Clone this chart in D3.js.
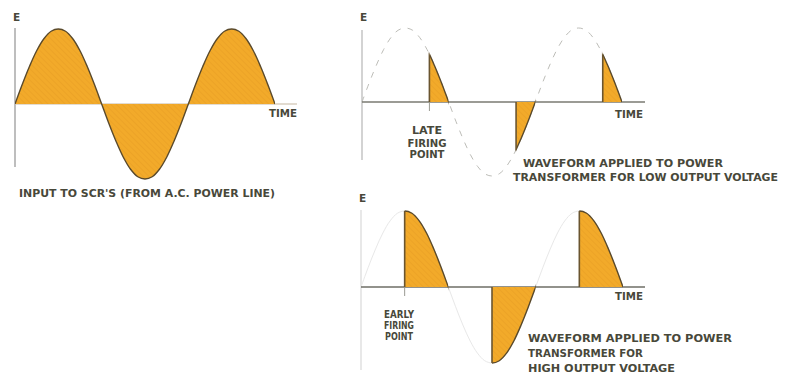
<!DOCTYPE html>
<html lang="en">
<head>
  <meta charset="UTF-8">
  <title>SCR firing waveforms</title>
  <script src="https://d3js.org/d3.v7.min.js"></script>
  <style>
    body { margin: 0; background: #fff; }
    svg text {
      font-family: "DejaVu Sans", sans-serif;
      font-weight: bold;
      font-size: 10.5px;
      fill: #48483a;
    }
  </style>
</head>
<body>
  <script>
    // Phase of the AC line, degrees (1.5 cycles shown)
    const phaseDeg = [0, 15, 30, 45, 60, 75, 90, 105, 120, 135, 150, 165, 180,
      195, 210, 225, 240, 255, 270, 285, 300, 315, 330, 345, 360,
      375, 390, 405, 420, 435, 450, 465, 480, 495, 510, 525, 540];
    // Normalised line voltage
    const lineVoltage = [0, 0.26, 0.5, 0.71, 0.87, 0.97, 1, 0.97, 0.87, 0.71, 0.5, 0.26, 0,
      -0.26, -0.5, -0.71, -0.87, -0.97, -1, -0.97, -0.87, -0.71, -0.5, -0.26, 0,
      0.26, 0.5, 0.71, 0.87, 0.97, 1, 0.97, 0.87, 0.71, 0.5, 0.26, 0];
    // Firing angle per panel (0 = full sine input)
    const firingAngles = [0, 140, 90];
    const firingLabels = [null, ["LATE", "FIRING", "POINT"], ["EARLY", "FIRING", "POINT"]];
    const captions = [
      ["INPUT TO SCR'S (FROM A.C. POWER LINE)"],
      ["WAVEFORM APPLIED TO POWER", "TRANSFORMER FOR LOW OUTPUT VOLTAGE"],
      ["WAVEFORM APPLIED TO POWER", "TRANSFORMER FOR", "HIGH OUTPUT VOLTAGE"]
    ];

    const W = 797, H = 374;
    const svg = d3.select("body").append("svg")
      .attr("width", W).attr("height", H);
    const defs = svg.append("defs");

    // hatched orange fill
    const pat = defs.append("pattern")
      .attr("id", "hatch")
      .attr("patternUnits", "userSpaceOnUse")
      .attr("width", 4).attr("height", 4)
      .attr("patternTransform", "rotate(-45)");
    pat.append("rect").attr("width", 4).attr("height", 4).attr("fill", "#f2aa2a");
    pat.append("line").attr("x1", 0).attr("y1", 0).attr("x2", 0).attr("y2", 4)
      .attr("stroke", "#d98f1c").attr("stroke-width", 1).attr("stroke-opacity", 0.45);

    // panel layout (pixels)
    const panels = [
      { x0: 15, x1: 275, yTop: 29, yBase: 104, yBot: 179, axisTop: 28, axisBot: 167, baseEnd: 297,
        eY: 21, timeY: 117, timeX: 297, ghost: null, axisColor: "#a9a9a9", baseColor: "#d9cfc0",
        capX: 19, capY: [197], capW: [256], labelX: 0, labelY: [] },
      { x0: 362, x1: 622, yTop: 28, yBase: 102, yBot: 176, axisTop: 30, axisBot: 160, baseEnd: 645,
        eY: 21, timeY: 118, timeX: 643, ghost: "dash", axisColor: "#c4c4c4", baseColor: "#7a7a72",
        capX: 523, capY: [167, 181], capW: [200, 265], capX2: [523, 513],
        labelX: 427, labelY: [134, 147, 158], labelW: [30, 39, 35] },
      { x0: 361, x1: 623, yTop: 211, yBase: 287, yBot: 363, axisTop: 210, axisBot: 370, baseEnd: 645,
        eY: 202, timeY: 300, timeX: 643, ghost: "solid", axisColor: "#e0e0e0", baseColor: "#6e6e66",
        capX: 528, capY: [342, 357, 372], capW: [204, 115, 147], capX2: [528, 528, 528],
        labelX: 399, labelY: [318, 329, 340], labelW: [30, 30, 28] }
    ];

    const wave = phaseDeg.map((d, i) => ({ deg: d, v: lineVoltage[i] }));

    panels.forEach((p, k) => {
      const x = d3.scaleLinear().domain([0, 540]).range([p.x0, p.x1]);
      const y = d3.scaleLinear().domain([-1, 1]).range([p.yBot, p.yTop]);
      const g = svg.append("g");
      const fire = firingAngles[k];

      const line = d3.line().x(d => x(d.deg)).y(d => y(d.v)).curve(d3.curveCatmullRom);
      const area = d3.area().x(d => x(d.deg)).y0(y(0)).y1(d => y(d.v)).curve(d3.curveCatmullRom);

      // vertical E axis
      g.append("line")
        .attr("x1", p.x0).attr("x2", p.x0)
        .attr("y1", p.axisTop).attr("y2", p.axisBot)
        .attr("stroke", p.axisColor).attr("stroke-width", 1.5);

      // full sine (ghost) for the SCR output panels
      if (p.ghost) {
        g.append("path").datum(wave)
          .attr("d", line)
          .attr("fill", "none")
          .attr("stroke", p.ghost === "dash" ? "#bdbdb8" : "#e8e8e8")
          .attr("stroke-width", 1)
          .attr("stroke-dasharray", p.ghost === "dash" ? "6,7" : null);
      }

      // baseline
      g.append("line")
        .attr("x1", p.x0).attr("x2", p.baseEnd)
        .attr("y1", y(0)).attr("y2", y(0))
        .attr("stroke", p.baseColor).attr("stroke-width", 1.3);

      // conduction windows
      const windows = [[fire, 180], [180 + fire, 360], [360 + fire, 540]];
      const clipW = defs.append("clipPath").attr("id", "win" + k);
      clipW.selectAll("rect").data(windows).join("rect")
        .attr("x", d => x(d[0])).attr("width", d => x(d[1]) - x(d[0]))
        .attr("y", p.yTop - 5).attr("height", p.yBot - p.yTop + 10);

      const clipA = defs.append("clipPath").attr("id", "area" + k);
      clipA.append("path").datum(wave).attr("d", area);

      const lit = g.append("g").attr("clip-path", `url(#win${k})`);
      lit.append("path").datum(wave)
        .attr("d", area)
        .attr("fill", "url(#hatch)");
      lit.append("path").datum(wave)
        .attr("d", line)
        .attr("fill", "none")
        .attr("stroke", "#5a4a2c")
        .attr("stroke-width", 1.4);

      // firing edges
      if (fire > 0) {
        g.append("g").attr("clip-path", `url(#area${k})`)
          .selectAll("line").data(windows).join("line")
          .attr("x1", d => x(d[0])).attr("x2", d => x(d[0]))
          .attr("y1", p.yTop - 5).attr("y2", p.yBot + 5)
          .attr("stroke", "#6a5530").attr("stroke-width", 1.6);

        // small tick at firing point
        g.append("line")
          .attr("x1", x(fire)).attr("x2", x(fire))
          .attr("y1", y(0)).attr("y2", y(0) + 9)
          .attr("stroke", "#9a9a92").attr("stroke-width", 1);

        firingLabels[k].forEach((t, i) => {
          g.append("text")
            .attr("x", p.labelX).attr("y", p.labelY[i])
            .attr("text-anchor", "middle")
            .attr("textLength", p.labelW[i])
            .attr("lengthAdjust", "spacingAndGlyphs")
            .text(t);
        });
      }

      // axis labels
      g.append("text").attr("x", p.x0 - 2).attr("y", p.eY).text("E");
      g.append("text")
        .attr("x", p.timeX).attr("y", p.timeY)
        .attr("text-anchor", "end")
        .attr("textLength", 28)
        .attr("lengthAdjust", "spacingAndGlyphs")
        .text("TIME");

      // captions
      captions[k].forEach((t, i) => {
        g.append("text")
          .attr("x", p.capX2 ? p.capX2[i] : p.capX).attr("y", p.capY[i])
          .attr("textLength", p.capW[i])
          .attr("lengthAdjust", "spacingAndGlyphs")
          .text(t);
      });
    });
  </script>
</body>
</html>
